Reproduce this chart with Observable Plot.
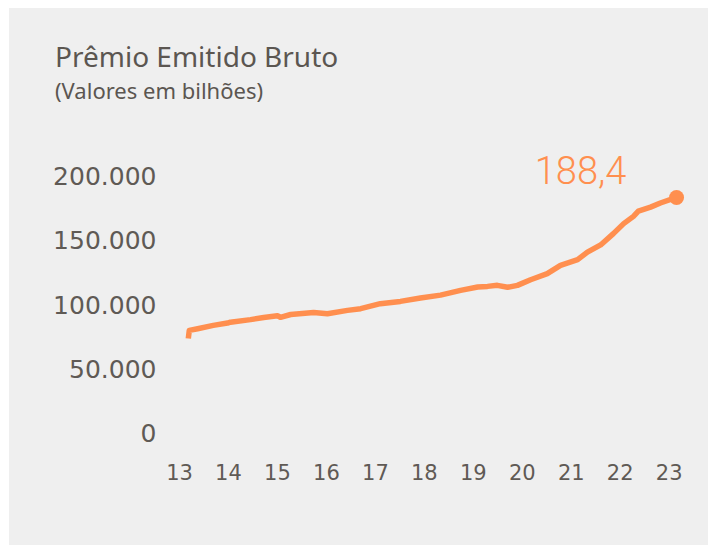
<!DOCTYPE html>
<html>
<head>
<meta charset="utf-8">
<script src="https://cdn.jsdelivr.net/npm/d3@7"></script>
<script src="https://cdn.jsdelivr.net/npm/@observablehq/plot@0.6"></script>
<style>
  html, body { margin: 0; padding: 0; background: #ffffff; width: 708px; height: 545px; overflow: hidden; }
  #panel { position: absolute; left: 9px; top: 8px; width: 699px; height: 537px; background: #efefef; }
  #title { position: absolute; left: 55px; top: 42px; line-height: 1; font-family: "Noto Sans", sans-serif; font-size: 28px; color: #5b5651; white-space: nowrap; }
  #subtitle { position: absolute; left: 55px; top: 79px; line-height: 1; font-family: "Noto Sans", sans-serif; font-size: 22px; color: #5b5651; white-space: nowrap; }
  #chart { position: absolute; left: 0; top: 120px; }
</style>
</head>
<body>
<div id="panel"></div>
<div id="title">Prêmio Emitido Bruto</div>
<div id="subtitle">(Valores em bilhões)</div>
<div id="chart"></div>
<script>
// Time in decimal years (yy), value of premium (R$ millions, 12-month accumulated)
const years = [13.18, 13.20, 13.37, 13.69, 13.98, 14.04, 14.45, 14.72, 15.00, 15.06, 15.27, 15.74, 16.02, 16.43, 16.70, 17.10, 17.51, 17.92, 18.33, 18.74, 19.09, 19.29, 19.49, 19.70, 19.90, 20.17, 20.51, 20.78, 21.13, 21.33, 21.60, 21.86, 22.07, 22.27, 22.37, 22.62, 22.82, 23.15];
const values = [74300, 80600, 81900, 84500, 86300, 87000, 89000, 90700, 92000, 90800, 93000, 94600, 93600, 96200, 97500, 101400, 103200, 105800, 108100, 111800, 114400, 114900, 115700, 114200, 115700, 120100, 124800, 131300, 135700, 141600, 147200, 156000, 163800, 169500, 173600, 176700, 179900, 184200];
const xTicks = [13, 14, 15, 16, 17, 18, 19, 20, 21, 22, 23];
const xTickLabels = ["13", "14", "15", "16", "17", "18", "19", "20", "21", "22", "23"];
const yTicks = [0, 50000, 100000, 150000, 200000];
const lastLabel = "188,4";

const data = years.map((t, i) => ({t, v: values[i]}));
const last = data[data.length - 1];
const ptBR = d3.formatLocale({decimal: ",", thousands: ".", grouping: [3], currency: ["R$", ""]});
const fmt = ptBR.format(",.0f");

const orange = "#ff8f4f";
const grey = "#5f5a55";

const chart = Plot.plot({
  width: 708,
  height: 425,
  marginTop: 56.7,
  marginBottom: 111.7,
  marginLeft: 179,
  marginRight: 39.3,
  style: {background: "transparent", overflow: "visible"},
  x: {domain: [13, 23], axis: null},
  y: {domain: [0, 200000], axis: null},
  marks: [
    Plot.axisY({ticks: yTicks, tickSize: 0, tickPadding: 23, tickFormat: fmt,
      fontSize: 25, fill: grey, fontFamily: "DejaVu Sans", label: null}),
    Plot.axisX({ticks: xTicks, tickSize: 0, tickPadding: 31,
      tickFormat: (d) => xTickLabels[xTicks.indexOf(d)],
      fontSize: 21, fill: grey, fontFamily: "DejaVu Sans", label: null}),
    Plot.line(data, {x: "t", y: "v", stroke: orange, strokeWidth: 5.5, strokeLinejoin: "round", strokeLinecap: "butt"}),
    Plot.dot([last], {x: "t", y: "v", r: 7.5, fill: orange, stroke: null}),
    Plot.text([last], {x: "t", y: "v", text: () => lastLabel, fill: orange, fontSize: 38,
      fontFamily: "Roboto", fontWeight: 300, textAnchor: "middle", lineAnchor: "bottom", dx: -96, dy: -13})
  ]
});
document.getElementById("chart").appendChild(chart);
</script>
</body>
</html>
